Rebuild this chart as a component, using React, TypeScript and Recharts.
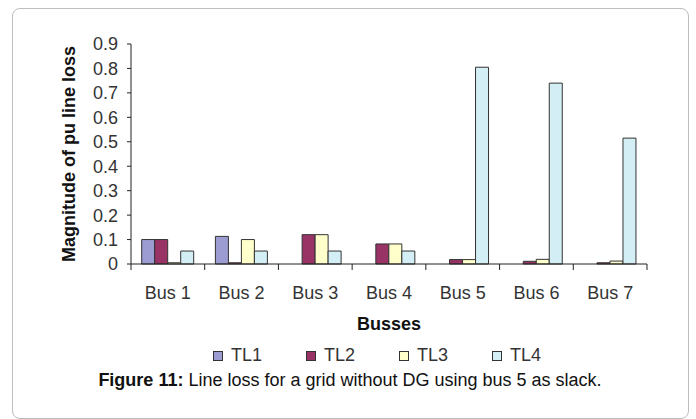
import { BarChart, Bar, XAxis, YAxis } from 'recharts';

const buses = ['Bus 1', 'Bus 2', 'Bus 3', 'Bus 4', 'Bus 5', 'Bus 6', 'Bus 7'];
const tl1 = [0.1, 0.113, 0, 0, 0, 0, 0];
const tl2 = [0.1, 0.005, 0.12, 0.082, 0.018, 0.011, 0.005];
const tl3 = [0.005, 0.1, 0.12, 0.082, 0.018, 0.019, 0.012];
const tl4 = [0.053, 0.053, 0.053, 0.053, 0.805, 0.74, 0.515];
const yTicks = [0, 0.1, 0.2, 0.3, 0.4, 0.5, 0.6, 0.7, 0.8, 0.9];

const series = [
  { key: 'tl1', name: 'TL1', color: '#9c9cd2' },
  { key: 'tl2', name: 'TL2', color: '#993366' },
  { key: 'tl3', name: 'TL3', color: '#ffffcc' },
  { key: 'tl4', name: 'TL4', color: '#d4eef5' },
];

const data = buses.map((bus, i) => ({
  bus,
  tl1: tl1[i],
  tl2: tl2[i],
  tl3: tl3[i],
  tl4: tl4[i],
}));

const FONT = '"Liberation Sans", Arial, sans-serif';
const CHART_W = 696;
const CHART_H = 419;
const MARGIN = { top: 44, right: 49, left: 71, bottom: 125 };
const Y_AXIS_W = 60;
const PLOT_W = CHART_W - MARGIN.left - MARGIN.right - Y_AXIS_W;

// labels sit in the middle of each category, tick marks between them
function BusTick(props: any) {
  const { x, y, payload, index } = props;
  const band = PLOT_W / buses.length;
  const axisY = y - 8;
  return (
    <g>
      <line x1={x - band / 2} x2={x - band / 2} y1={axisY} y2={axisY + 6} stroke="#222" />
      {index === buses.length - 1 && (
        <line x1={x + band / 2} x2={x + band / 2} y1={axisY} y2={axisY + 6} stroke="#222" />
      )}
      <text x={x} y={axisY + 35} textAnchor="middle" fill="#333" fontSize={18} fontFamily={FONT}>
        {payload.value}
      </text>
    </g>
  );
}

export default function App() {
  return (
    <div
      style={{
        position: 'absolute',
        left: 0,
        top: 0,
        width: CHART_W,
        height: CHART_H,
        background: '#fff',
        overflow: 'hidden',
        fontFamily: FONT,
      }}
    >
      <div
        style={{
          position: 'absolute',
          left: 12,
          top: 8,
          width: 675,
          height: 409,
          border: '1px solid #bdbdbd',
          borderRadius: 8,
        }}
      />
      <div style={{ position: 'absolute', left: 0, top: 0 }}>
        <BarChart
          width={CHART_W}
          height={CHART_H}
          data={data}
          margin={MARGIN}
          barCategoryGap="14.5%"
          barGap={0}
        >
          <XAxis
            dataKey="bus"
            interval={0}
            height={30}
            tickLine={false}
            axisLine={{ stroke: '#222' }}
            tick={<BusTick />}
            label={{
              value: 'Busses',
              position: 'bottom',
              offset: 23,
              fill: '#111',
              fontSize: 18,
              fontWeight: 'bold',
              fontFamily: FONT,
            }}
          />
          <YAxis
            width={Y_AXIS_W}
            domain={[0, 0.9]}
            ticks={yTicks}
            interval={0}
            tickSize={4}
            tickMargin={9}
            tickFormatter={(v: number) => (v === 0 ? '0' : v.toFixed(1))}
            axisLine={{ stroke: '#222' }}
            tickLine={{ stroke: '#222' }}
            tick={{ fill: '#333', fontSize: 18, fontFamily: FONT }}
            label={{
              value: 'Magnitude of pu line loss',
              angle: -90,
              position: 'insideLeft',
              offset: -2,
              fill: '#111',
              fontSize: 18,
              fontWeight: 'bold',
              fontFamily: FONT,
              style: { textAnchor: 'middle' },
            }}
          />
          {series.map((s) => (
            <Bar
              key={s.key}
              dataKey={s.key}
              name={s.name}
              fill={s.color}
              stroke="#333"
              strokeWidth={1}
              isAnimationActive={false}
            />
          ))}
        </BarChart>
      </div>
      <div
        style={{
          position: 'absolute',
          left: 213,
          top: 345,
          display: 'flex',
          gap: 44,
          alignItems: 'center',
          fontSize: 18,
          color: '#333',
          whiteSpace: 'nowrap',
        }}
      >
        {series.map((s) => (
          <div key={s.key} style={{ display: 'flex', alignItems: 'center', gap: 8 }}>
            <span
              style={{
                display: 'inline-block',
                width: 8,
                height: 8,
                background: s.color,
                border: '1px solid #333',
              }}
            />
            <span>{s.name}</span>
          </div>
        ))}
      </div>
      <div
        style={{
          position: 'absolute',
          left: 12,
          width: 676,
          top: 370,
          textAlign: 'center',
          fontSize: 18,
          color: '#111',
          whiteSpace: 'nowrap',
        }}
      >
        <b>Figure 11:</b> Line loss for a grid without DG using bus 5 as slack.
      </div>
    </div>
  );
}
